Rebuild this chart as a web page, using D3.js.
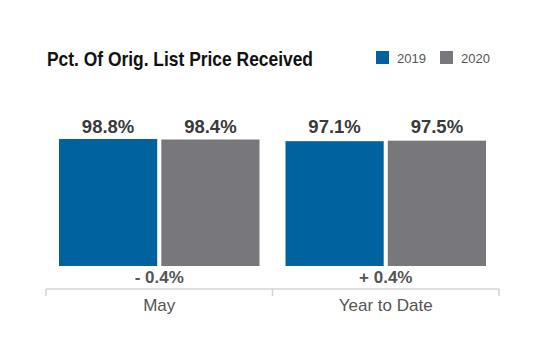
<!DOCTYPE html>
<html>
<head>
<meta charset="utf-8">
<script src="https://cdn.jsdelivr.net/npm/d3@7"></script>
<style>
  body { margin: 0; background: #fff; }
  svg { display: block; font-family: 'Liberation Sans', Arial, sans-serif; }
</style>
</head>
<body>
<div id="chart-area"></div>
<script>
// data
var categories = ['May', 'Year to Date']
var series = ['2019', '2020']
var values2019 = [98.8, 97.1]
var values2020 = [98.4, 97.5]
var changes = ['- 0.4%', '+ 0.4%']
var colors = ['#00629f', '#78777c']

var width = 543
var height = 353

var svg = d3.select('#chart-area')
  .append('svg')
  .attr('width', width)
  .attr('height', height)

// title
svg.append('text')
  .attr('x', 47)
  .attr('y', 66)
  .attr('font-family', "'Liberation Sans Narrow', 'Liberation Sans', sans-serif")
  .attr('font-weight', 'bold')
  .attr('font-size', '21px')
  .attr('fill', '#111')
  .attr('textLength', 266)
  .attr('lengthAdjust', 'spacingAndGlyphs')
  .text('Pct. Of Orig. List Price Received')

// legend
var legend = svg.selectAll('.legend')
  .data(series)
  .enter().append('g')
  .attr('class', 'legend')
  .attr('transform', function (d, i) { return 'translate(' + (376 + i * 64) + ', 51)' })

legend.append('rect')
  .attr('width', 13)
  .attr('height', 13)
  .attr('fill', function (d, i) { return colors[i] })

legend.append('text')
  .attr('x', 21)
  .attr('y', 12)
  .attr('font-size', '13px')
  .attr('fill', '#555')
  .text(function (d) { return d })

// scales
var x0 = d3.scaleBand()
  .domain(categories)
  .range([46, 499])

var x1 = d3.scaleBand()
  .domain(series)
  .range([13, x0.bandwidth() - 13])
  .paddingInner(0.04)

var y = d3.scaleLinear()
  .domain([0, d3.max(values2019.concat(values2020))])
  .range([266, 139])

// rows for the bars
var rows = categories.map(function (c, i) {
  return { cat: c, vals: [values2019[i], values2020[i]], change: changes[i] }
})

var groups = svg.selectAll('.group')
  .data(rows)
  .enter().append('g')
  .attr('class', 'group')
  .attr('transform', function (d) { return 'translate(' + x0(d.cat) + ', 0)' })

groups.selectAll('rect')
  .data(function (d) { return d.vals.map(function (v, i) { return { s: series[i], v: v, i: i } }) })
  .enter().append('rect')
  .attr('x', function (d) { return x1(d.s) })
  .attr('y', function (d) { return y(d.v) })
  .attr('width', x1.bandwidth())
  .attr('height', function (d) { return y(0) - y(d.v) })
  .attr('fill', function (d) { return colors[d.i] })

groups.selectAll('.val')
  .data(function (d) { return d.vals.map(function (v, i) { return { s: series[i], v: v } }) })
  .enter().append('text')
  .attr('class', 'val')
  .attr('x', function (d) { return x1(d.s) + x1.bandwidth() / 2 })
  .attr('y', 133)
  .attr('text-anchor', 'middle')
  .attr('font-weight', 'bold')
  .attr('font-size', '18.5px')
  .attr('fill', '#3a3a3a')
  .text(function (d) { return d.v.toFixed(1) + '%' })

// change labels
groups.append('text')
  .attr('x', x0.bandwidth() / 2)
  .attr('y', 283)
  .attr('text-anchor', 'middle')
  .attr('font-weight', 'bold')
  .attr('font-size', '17px')
  .attr('fill', '#555')
  .text(function (d) { return d.change })

// x axis
var xAxis = svg.append('g')
  .attr('transform', 'translate(0, 289)')

xAxis.append('line')
  .attr('x1', 46)
  .attr('x2', 499)
  .attr('stroke', '#d4d4d4')
  .attr('stroke-width', 1.5)

var tickPos = categories.map(function (c) { return x0(c) }).concat([x0.range()[1]])
xAxis.selectAll('.tick')
  .data(tickPos)
  .enter().append('line')
  .attr('x1', function (d) { return d })
  .attr('x2', function (d) { return d })
  .attr('y1', 0)
  .attr('y2', 7)
  .attr('stroke', '#d4d4d4')
  .attr('stroke-width', 1.5)

xAxis.selectAll('.cat')
  .data(categories)
  .enter().append('text')
  .attr('x', function (d) { return x0(d) + x0.bandwidth() / 2 })
  .attr('y', 22)
  .attr('text-anchor', 'middle')
  .attr('font-size', '17px')
  .attr('fill', '#555')
  .text(function (d) { return d })
</script>
</body>
</html>
